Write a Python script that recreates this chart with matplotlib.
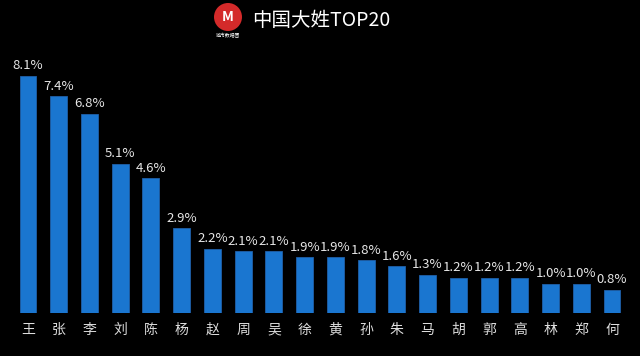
import matplotlib

matplotlib.use("Agg")

import matplotlib.pyplot as plt
from matplotlib.patches import Ellipse

plt.rcParams["font.family"] = ["Noto Sans CJK SC", "DejaVu Sans"]

surnames = ["王", "张", "李", "刘", "陈", "杨", "赵", "周", "吴", "徐",
            "黄", "孙", "朱", "马", "胡", "郭", "高", "林", "郑", "何"]
shares = [8.1, 7.4, 6.8, 5.1, 4.6, 2.9, 2.2, 2.1, 2.1, 1.9,
          1.9, 1.8, 1.6, 1.3, 1.2, 1.2, 1.2, 1.0, 1.0, 0.8]
title = "中国大姓TOP20"

fig = plt.figure(figsize=(6.4, 3.56), dpi=100, facecolor="black")
ax = fig.add_axes([0.0197, 0.1208, 0.9606, 0.7407], facecolor="black")

x = range(len(surnames))
ax.bar(x, shares, width=0.55, color="#1a76d0", edgecolor="#1f5fa8",
       linewidth=0.6)
for xi, v in zip(x, shares):
    ax.text(xi, v + 0.12, f"{v:.1f}%", ha="center", va="bottom",
            color="#e6e6e6", fontsize=9.5, fontweight="light")

ax.set_xlim(-0.5, len(surnames) - 0.5)
ax.set_ylim(0, 9.0)
ax.set_xticks(list(x))
ax.set_xticklabels(surnames, color="#dddddd", fontsize=10)
ax.tick_params(axis="x", length=0, pad=7)
ax.set_yticks([])
for s in ax.spines.values():
    s.set_visible(False)

# logo + title
fig.text(252 / 640, 1 - 20 / 356, title, color="white", fontsize=14,
         ha="left", va="center")
cx, cy = 228 / 640, 1 - 17 / 356
logo = Ellipse((cx, cy), 28 / 640, 28 / 356, transform=fig.transFigure,
               facecolor="#d42a2a", edgecolor="none")
fig.patches.append(logo)
fig.text(cx, cy, "M", color="white", fontsize=10, ha="center", va="center",
         fontweight="bold")
fig.text(cx, 1 - 36 / 356, "城市数据团", color="white", fontsize=3.5,
         ha="center", va="center")

fig.savefig("out.png", dpi=100, facecolor="black")
